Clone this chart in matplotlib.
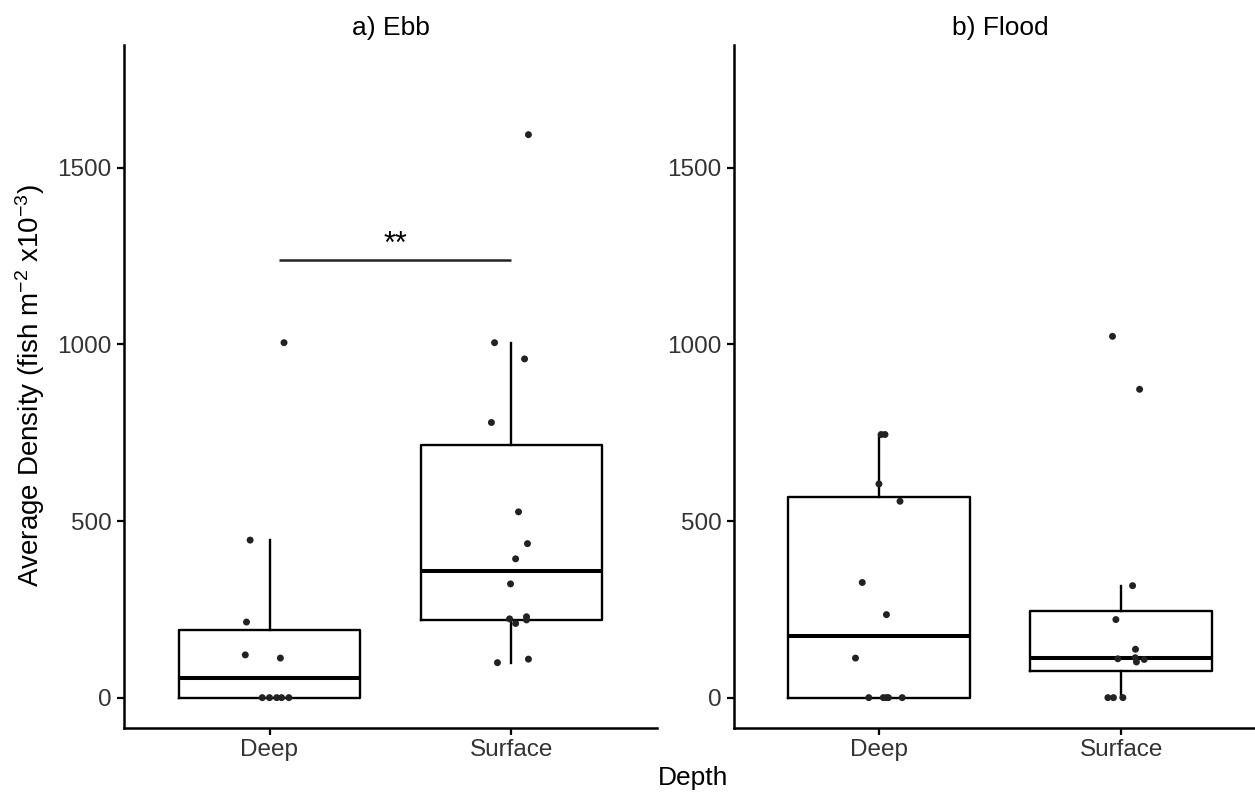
import matplotlib
matplotlib.use("Agg")
import matplotlib.pyplot as plt
import numpy as np

plt.rcParams['font.family'] = ['Liberation Sans', 'DejaVu Sans']
plt.rcParams['mathtext.fontset'] = 'custom'
plt.rcParams['mathtext.rm'] = 'Liberation Sans'
plt.rcParams['mathtext.it'] = 'Liberation Sans:italic'
plt.rcParams['mathtext.bf'] = 'Liberation Sans:bold'

# ---------------- data ----------------
categories = ["Deep", "Surface"]
panel_titles = ["a) Ebb", "b) Flood"]

ebb_deep = [0, 0, 0, 0, 0, 112, 121, 214, 446, 1005]
ebb_deep_jit = [-0.03, 0.03, 0.08, 0.0, 0.05, 0.045, -0.10, -0.095, -0.08, 0.06]

ebb_surface = [1594, 1005, 959, 779, 526, 436, 393, 322, 229, 223, 220, 210, 109, 99]
ebb_surface_jit = [0.07, -0.07, 0.054, -0.083, 0.029, 0.066, 0.017, -0.004,
                   0.062, -0.008, 0.062, 0.017, 0.07, -0.058]

flood_deep = [0, 0, 0, 0, 0, 112, 235, 326, 556, 605, 745, 745]
flood_deep_jit = [-0.043, 0.017, 0.038, 0.095, 0.03, -0.098, 0.03, -0.07,
                  0.086, -0.001, 0.008, 0.024]

flood_surface = [0, 0, 0, 101, 108, 110, 113, 137, 221, 317, 873, 1023]
flood_surface_jit = [-0.055, -0.032, 0.007, 0.063, 0.095, -0.014, 0.058, 0.059,
                     -0.022, 0.047, 0.076, -0.036]

yticks = [0, 500, 1000, 1500]
sig_label = "**"
sig_y = 1239

panels = [
    (ebb_deep, ebb_deep_jit, ebb_surface, ebb_surface_jit),
    (flood_deep, flood_deep_jit, flood_surface, flood_surface_jit),
]

# ---------------- figure ----------------
W, H = 1255, 792
fig = plt.figure(figsize=(W / 100, H / 100), dpi=100)

ax_left_px = [124.3, 734.0]
ax_w_px = 532.4
ax_bottom_px = 728.0
ax_top_px = 45.3

INK = "#222222"
TXT = "#333333"

for i, (d1, j1, d2, j2) in enumerate(panels):
    ax = fig.add_axes([ax_left_px[i] / W, 1 - ax_bottom_px / H,
                       ax_w_px / W, (ax_bottom_px - ax_top_px) / H])
    ax.set_xlim(0.4, 2.6)
    ax.set_ylim(-86, 1847)

    ax.boxplot([d1, d2], positions=[1, 2], widths=0.75, whis=1.5,
               showfliers=False, showcaps=False, patch_artist=False,
               boxprops=dict(color="black", linewidth=1.7),
               whiskerprops=dict(color="black", linewidth=1.7),
               medianprops=dict(color="black", linewidth=2.9),
               zorder=2)

    for pos, vals, jit in [(1, d1, j1), (2, d2, j2)]:
        ax.scatter(pos + np.asarray(jit), vals, s=25, color=INK,
                   edgecolors="none", zorder=3)

    for s in ["top", "right"]:
        ax.spines[s].set_visible(False)
    for s in ["left", "bottom"]:
        ax.spines[s].set_linewidth(1.8)
        ax.spines[s].set_color("black")

    ax.set_xticks([1, 2])
    ax.set_xticklabels(categories)
    ax.set_yticks(yticks)
    ax.set_yticklabels([str(v) for v in yticks])
    ax.tick_params(axis="both", length=5, width=1.6, color="black",
                   labelsize=17.5, labelcolor=TXT)
    ax.tick_params(axis="y", pad=4)
    ax.tick_params(axis="x", pad=3)

    cx = (ax_left_px[i] + ax_w_px / 2) / W
    fig.text(cx, 1 - 28 / H, panel_titles[i], ha="center", va="center",
             fontsize=19, color="black")

    if i == 0:
        ax.plot([1.04, 2.0], [sig_y, sig_y], color=INK, linewidth=1.8,
                solid_capstyle="butt", zorder=3)
        ax.text(1.52, 1258, sig_label, ha="center", va="baseline",
                fontsize=22, color="black")

fig.text(30 / W, 1 - 386 / H,
         "Average Density (fish m$^{-2}$ x10$^{-3}$)",
         rotation=90, ha="center", va="center", fontsize=20, color="black")
fig.text(693 / W, 1 - 778 / H, "Depth", ha="center", va="center",
         fontsize=19, color="black")

fig.savefig("out.png", dpi=100, facecolor="white")
